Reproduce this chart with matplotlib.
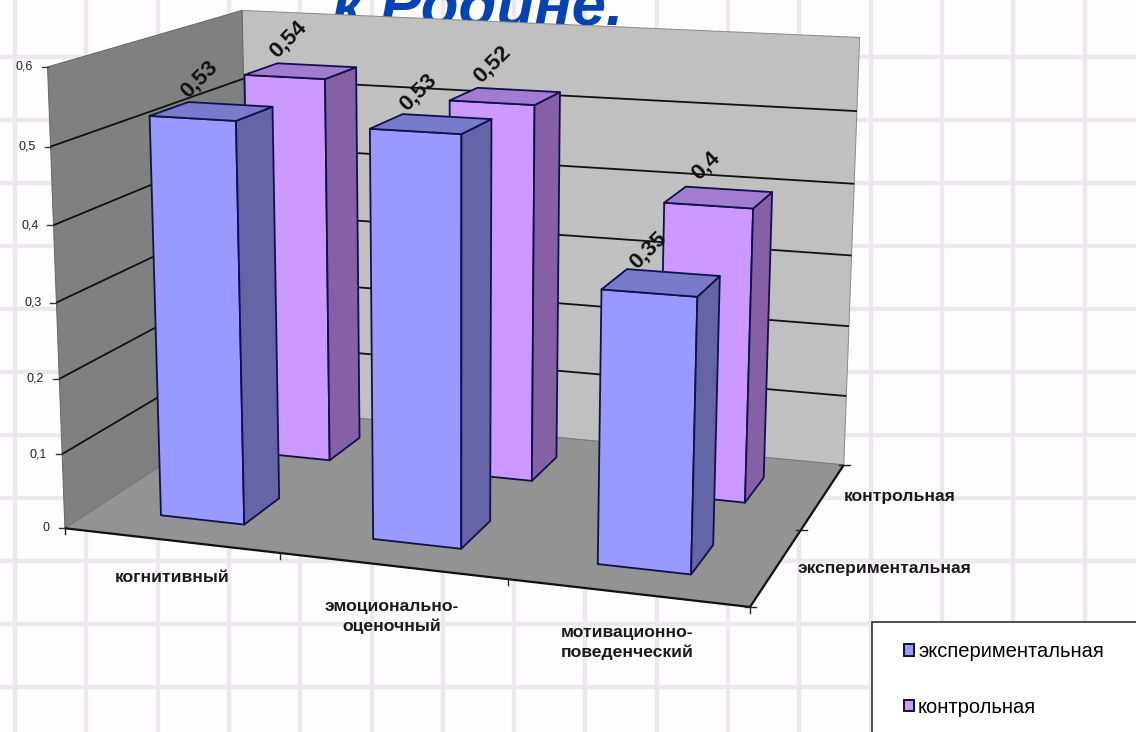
import numpy as np
import matplotlib
matplotlib.use("Agg")
import matplotlib.pyplot as plt
from matplotlib.patches import Polygon, Rectangle

plt.rcParams['font.family'] = ['Liberation Sans', 'DejaVu Sans']

categories = ["когнитивный", "эмоционально-\nоценочный", "мотивационно-\nповеденческий"]
series_names = ["экспериментальная", "контрольная"]
experimental = [0.53, 0.53, 0.35]
control = [0.54, 0.52, 0.40]
value_ticks = [0, 0.1, 0.2, 0.3, 0.4, 0.5, 0.6]

W, H = 1136, 732
fig = plt.figure(figsize=(W / 100, H / 100), dpi=100)
ax = fig.add_axes([0, 0, 1, 1])
ax.set_xlim(0, W)
ax.set_ylim(H, 0)
ax.axis("off")
fig.patch.set_facecolor("#fefdfe")

# paper background
for x in np.arange(15, W, 71.3):
    ax.axvline(x, color="#efe7ef", lw=3.2, zorder=0)
for y in np.arange(57, H, 63):
    ax.axhline(y, color="#efe7ef", lw=3.2, zorder=0)

# camera: fitted to the plot-box corners (world x=category, y=series depth, z=value)
world = np.array([[0, 0, 0], [3, 0, 0], [3, 2, 0], [0, 2, 0],
                  [0, 0, .6], [0, 2, .6], [3, 2, .6],
                  [0, 0, .5], [0, 0, .1], [3, 2, .3]], float)
pix = np.array([[66, 528], [750, 608], [845, 464], [248, 409],
                [46, 67], [244, 10], [860, 38],
                [50, 147], [63, 453], [850, 255]], float)
A = []
for (X, Y, Z), (u, v) in zip(world, pix):
    A.append([X, Y, Z, 1, 0, 0, 0, 0, -u * X, -u * Y, -u * Z, -u])
    A.append([0, 0, 0, 0, X, Y, Z, 1, -v * X, -v * Y, -v * Z, -v])
P = np.linalg.svd(np.array(A))[2][-1].reshape(3, 4)


def proj(x, y, z):
    q = P @ np.array([x, y, z, 1.0])
    return q[0] / q[2], q[1] / q[2]


def quad(pts, fc, lw=1.3, ec="#10104a", z=2):
    ax.add_patch(Polygon([proj(*p) for p in pts], closed=True, fc=fc, ec=ec, lw=lw,
                         joinstyle="round", zorder=z))


# walls and floor
quad([(0, 2, 0), (3, 2, 0), (3, 2, .6), (0, 2, .6)], "#c0c0c0", lw=0.7, ec="#8a8a8a")
quad([(0, 0, 0), (0, 2, 0), (0, 2, .6), (0, 0, .6)], "#808080", lw=0.7, ec="#666666")
quad([(0, 0, 0), (3, 0, 0), (3, 2, 0), (0, 2, 0)], "#939393", lw=0.7, ec="#777777")


def seg(a, b, lw=1.3, c="#111111", z=3):
    pa, pb = proj(*a), proj(*b)
    ax.plot([pa[0], pb[0]], [pa[1], pb[1]], color=c, lw=lw, zorder=z, solid_capstyle="butt")


for v in value_ticks[1:-1]:
    seg((0, 0, v), (0, 2, v))
    seg((0, 2, v), (3, 2, v))
seg((0, 0, 0), (3, 0, 0), lw=1.6)
seg((3, 0, 0), (3, 2, 0), lw=1.6)

# ticks
for v in value_ticks:
    x0, y0 = proj(0, 0, v)
    ax.plot([x0 - 6, x0], [y0, y0], color="#333333", lw=1, zorder=3)
    lab = "0" if v == 0 else f"{v:.1f}".replace(".", ",")
    ax.text(x0 - 15, y0, lab, ha="right", va="center", fontsize=9, color="#222222", zorder=6)
for i in range(4):
    x0, y0 = proj(i, 0, 0)
    ax.plot([x0, x0], [y0 - 1, y0 + 6], color="#222222", lw=1, zorder=3)
for j in range(3):
    x0, y0 = proj(3, j, 0)
    ax.plot([x0 - 5, x0 + 6], [y0, y0], color="#222222", lw=1, zorder=3)

# bars
bar_w, bar_d = 0.395, 0.39
styles = [("#9999ff", "#6464a6", "#7a7acb"), ("#cc99ff", "#8660a6", "#a27cd0")]


def bar(i, j, val, cols):
    xc, yc = i * 0.99 + .512, j + .49
    x0, x1 = xc - bar_w / 2, xc + bar_w / 2
    y0, y1 = yc - bar_d / 2, yc + bar_d / 2
    quad([(x0, y0, 0), (x1, y0, 0), (x1, y0, val), (x0, y0, val)], cols[0], z=4)
    quad([(x1, y0, 0), (x1, y1, 0), (x1, y1, val), (x1, y0, val)], cols[1], z=4)
    quad([(x0, y0, val), (x1, y0, val), (x1, y1, val), (x0, y1, val)], cols[2], z=4)
    cx, cy = proj(xc, yc, val)
    ax.text(cx - 13, cy - 32, f"{val:g}".replace(".", ","), rotation=45, ha="center", va="center",
            rotation_mode="anchor", fontsize=16, fontweight="bold", color="#111111", zorder=5)


for j, vals in [(1, control), (0, experimental)]:
    for i, val in enumerate(vals):
        bar(i, j, val, styles[j])

# axis texts
for (cx, cy), lab in zip([(172, 578), (392, 616.5), (627, 642.5)], categories):
    ax.text(cx, cy, lab, ha="center", va="center", fontsize=12.6, fontweight="bold",
            color="#1a1a1a", linespacing=1.3, zorder=6)
ax.text(844, 497, series_names[1], ha="left", va="center", fontsize=12.6, fontweight="bold", color="#1a1a1a")
ax.text(798, 569, series_names[0], ha="left", va="center", fontsize=12.6, fontweight="bold", color="#1a1a1a")

# clipped title
ax.text(478, 25, "к Родине.", ha="center", va="baseline", fontsize=44.5, fontweight="bold",
        fontstyle="italic", color="#0544b0", zorder=1.5)

# legend
ax.add_patch(Rectangle((871.5, 621.5), 270, 120, fc="white", ec="#333333", lw=1.2, zorder=7))
handles = [Rectangle((0, 0), 1, 1, fc=styles[k][0], ec="#111133", lw=1.4) for k in range(2)]
ax.legend(handles, series_names, loc="upper left", bbox_to_anchor=(904 / W, 1 - 642 / H),
          bbox_transform=fig.transFigure, frameon=False, fontsize=14.5, labelspacing=1.82,
          handlelength=0.5, handleheight=0.5, handletextpad=0.2, borderpad=0, borderaxespad=0).set_zorder(8)

fig.savefig("out.png", dpi=100)
